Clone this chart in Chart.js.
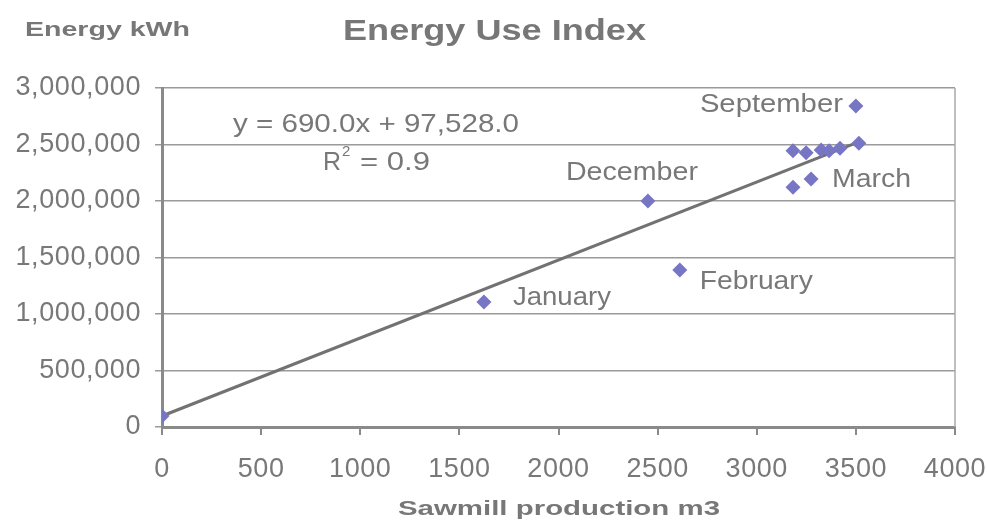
<!DOCTYPE html>
<html>
<head>
<meta charset="utf-8">
<script src="https://cdn.jsdelivr.net/npm/chart.js@4/dist/chart.umd.min.js"></script>
<style>
    html, body { margin: 0; padding: 0; background: #fff; }
    #wrap { width: 987px; height: 521px; position: relative; }
</style>
</head>
<body>
<div id="wrap"><canvas id="eui-chart"></canvas></div>
<script>
// Sawmill production (m3) vs energy use (kWh)
const productionM3 = [0, 1624, 2451, 2612, 3500, 3183, 3249, 3325, 3365, 3420, 3515, 3183, 3274];
const energyKWh = [97000, 1106000, 2000000, 1389000, 2841000, 2445000, 2427000, 2451000, 2445000, 2466000, 2511000, 2121000, 2195000];
const monthLabels = ['', 'January', 'December', 'February', 'September', '', '', '', '', '', '', '', 'March'];

// linear trendline end points (y = 690.0x + 97,528.0)
const trendX = [0, 3515];
const trendY = [97528, 2522878];

const xTicks = [0, 500, 1000, 1500, 2000, 2500, 3000, 3500, 4000];
const yTicks = [0, 500000, 1000000, 1500000, 2000000, 2500000, 3000000];

const FONT = '"Liberation Sans", Arial, sans-serif';
const TEXT_GREY = '#787878';

// where each month label sits relative to its marker
const LABEL_PLACE = {
    January: { dx: 29, dy: -4, align: 'left', w: 98 },
    February: { dx: 20, dy: 12, align: 'left', w: 113 },
    December: { dx: -16, dy: -28, align: 'center', w: 132 },
    September: { dx: -13, dy: -1, align: 'right', w: 143 },
    March: { dx: 21, dy: 1, align: 'left', w: 79 }
};

// draw text squeezed/stretched to a target width (the source renders wide)
function fitText(ctx, text, x, y, width, align) {
    const natural = ctx.measureText(text).width;
    const sx = width ? width / natural : 1;
    let left = x;
    if (align === 'center') left = x - (natural * sx) / 2;
    else if (align === 'right') left = x - natural * sx;
    ctx.save();
    ctx.translate(left, y);
    ctx.scale(sx, 1);
    ctx.textAlign = 'left';
    ctx.fillText(text, 0, 0);
    ctx.restore();
}

const decorations = {
    id: 'decorations',
    beforeDraw(chart) {
        // tick labels in the source are a touch wider
        chart.ctx.letterSpacing = '0.6px';
    },
    afterDraw(chart) {
        const { ctx, chartArea, scales } = chart;
        ctx.save();
        ctx.letterSpacing = '0px';

        // plot box right edge
        ctx.strokeStyle = '#a8a8a8';
        ctx.lineWidth = 1.5;
        ctx.beginPath();
        ctx.moveTo(chartArea.right, chartArea.top);
        ctx.lineTo(chartArea.right, chartArea.bottom);
        ctx.stroke();

        ctx.textBaseline = 'middle';

        // month labels
        ctx.fillStyle = TEXT_GREY;
        ctx.font = '26px ' + FONT;
        monthLabels.forEach((name, i) => {
            if (!name) return;
            const p = LABEL_PLACE[name];
            const px = scales.x.getPixelForValue(productionM3[i]);
            const py = scales.y.getPixelForValue(energyKWh[i]);
            fitText(ctx, name, px + p.dx, py + p.dy, p.w, p.align);
        });

        // trendline equation
        fitText(ctx, 'y = 690.0x + 97,528.0', 233, 125, 286, 'left');
        fitText(ctx, 'R', 323, 163, 18, 'left');
        ctx.font = '15px ' + FONT;
        ctx.fillText('2', 342, 152);
        ctx.font = '26px ' + FONT;
        fitText(ctx, '= 0.9', 360, 163, 70, 'left');

        // titles
        ctx.fillStyle = '#777777';
        ctx.font = 'bold 29px ' + FONT;
        fitText(ctx, 'Energy Use Index', 343, 32, 303, 'left');
        ctx.font = 'bold 20px ' + FONT;
        fitText(ctx, 'Energy kWh', 25, 30, 165, 'left');
        ctx.font = 'bold 21px ' + FONT;
        fitText(ctx, 'Sawmill production m3', 398, 509, 322, 'left');

        ctx.restore();
    }
};

new Chart(document.getElementById('eui-chart'), {
    type: 'scatter',
    data: {
        datasets: [
            {
                label: 'Energy',
                data: productionM3.map((x, i) => ({ x, y: energyKWh[i] })),
                pointStyle: 'rectRot',
                pointRadius: 7.5,
                pointBackgroundColor: '#7676c4',
                pointBorderColor: '#7676c4',
                pointBorderWidth: 0,
                order: 0
            },
            {
                label: 'Trend',
                data: trendX.map((x, i) => ({ x, y: trendY[i] })),
                showLine: true,
                borderColor: '#727272',
                borderWidth: 3,
                pointRadius: 0,
                order: 1
            }
        ]
    },
    options: {
        responsive: true,
        maintainAspectRatio: false,
        animation: false,
        layout: { padding: { top: 88, right: 32, left: 0, bottom: 0 } },
        plugins: {
            legend: { display: false },
            tooltip: { enabled: false }
        },
        scales: {
            x: {
                type: 'linear',
                min: 0,
                max: 4000,
                afterBuildTicks: (scale) => { scale.ticks = xTicks.map(v => ({ value: v })); },
                afterFit: (scale) => {
                    scale.height = 94;
                    scale.paddingLeft = 0;
                    scale.paddingRight = 0;
                },
                ticks: {
                    color: TEXT_GREY,
                    font: { family: FONT, size: 27 },
                    padding: 18,
                    maxRotation: 0,
                    callback: (v) => String(v)
                },
                grid: {
                    drawOnChartArea: false,
                    drawTicks: true,
                    tickLength: 8,
                    color: '#8a8a8a',
                    lineWidth: 2
                },
                border: { color: '#8a8a8a', width: 3 }
            },
            y: {
                type: 'linear',
                min: 0,
                max: 3000000,
                afterBuildTicks: (scale) => { scale.ticks = yTicks.map(v => ({ value: v })); },
                afterFit: (scale) => {
                    scale.width = 162;
                    scale.paddingTop = 0;
                    scale.paddingBottom = 0;
                },
                ticks: {
                    color: TEXT_GREY,
                    font: { family: FONT, size: 27 },
                    padding: 14,
                    callback: (v) => v.toLocaleString('en-US')
                },
                grid: {
                    color: '#9a9a9a',
                    lineWidth: 1.5,
                    tickLength: 7
                },
                border: { color: '#8a8a8a', width: 3 }
            }
        }
    },
    plugins: [decorations]
});
</script>
</body>
</html>
